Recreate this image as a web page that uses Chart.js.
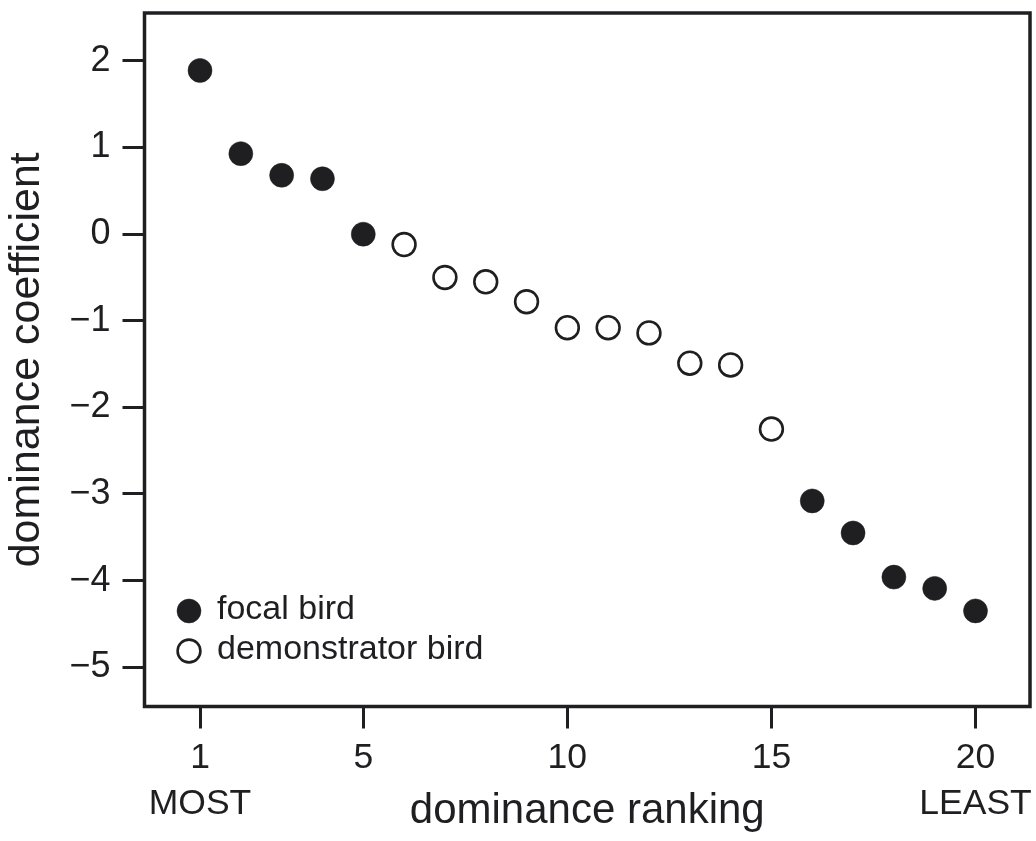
<!DOCTYPE html>
<html>
<head>
<meta charset="utf-8">
<script src="https://cdn.jsdelivr.net/npm/chart.js@4.4.1/dist/chart.umd.min.js"></script>
<style>
  html, body { margin: 0; padding: 0; background: #fff; }
</style>
</head>
<body>
<canvas id="chart" width="1036" height="841"></canvas>
<script>
// values
const focalRanks = [1, 2, 3, 4, 5, 16, 17, 18, 19, 20];
const focalCoef = [1.89, 0.93, 0.68, 0.64, 0.00, -3.08, -3.45, -3.96, -4.09, -4.35];
const demoRanks = [6, 7, 8, 9, 10, 11, 12, 13, 14, 15];
const demoCoef = [-0.12, -0.50, -0.55, -0.78, -1.08, -1.08, -1.14, -1.49, -1.51, -2.25];
const seriesNames = ['focal bird', 'demonstrator bird'];
const xTicks = [1, 5, 10, 15, 20];
const xTickLabels = [['1', 'MOST'], '5', '10', '15', ['20', 'LEAST']];
const yTicks = [2, 1, 0, -1, -2, -3, -4, -5];

const ink = '#1f1e21';
const font = "'Liberation Sans', Arial, sans-serif";

// frame around plot area
const framePlugin = {
    id: 'frame',
    afterDatasetsDraw(chart) {
        const a = chart.chartArea;
        const ctx = chart.ctx;
        ctx.save();
        ctx.strokeStyle = ink;
        ctx.lineWidth = 3.5;
        ctx.strokeRect(a.left, a.top, a.right - a.left, a.bottom - a.top);
        ctx.restore();
    }
};

// legend inside the plot, bottom left
const legendPlugin = {
    id: 'innerLegend',
    afterDraw(chart) {
        const a = chart.chartArea;
        const ctx = chart.ctx;
        ctx.save();
        chart.data.datasets.forEach((ds, i) => {
            const cx = a.left + 44.5;
            const cy = a.bottom - 95.5 + i * 40;
            ctx.beginPath();
            ctx.arc(cx, cy, ds.pointRadius, 0, Math.PI * 2);
            ctx.fillStyle = ds.pointBackgroundColor;
            ctx.fill();
            ctx.lineWidth = ds.pointBorderWidth;
            ctx.strokeStyle = ds.pointBorderColor;
            ctx.stroke();
            ctx.fillStyle = ink;
            ctx.font = '34px ' + font;
            ctx.textAlign = 'left';
            ctx.textBaseline = 'middle';
            ctx.fillText(ds.label, a.left + 72.5, cy - 1.5);
        });
        ctx.restore();
    }
};

new Chart(document.getElementById('chart'), {
    type: 'scatter',
    data: {
        datasets: [{
            label: seriesNames[0],
            data: focalRanks.map((r, i) => ({ x: r, y: focalCoef[i] })),
            pointRadius: 12,
            pointBackgroundColor: ink,
            pointBorderColor: ink,
            pointBorderWidth: 0.5
        }, {
            label: seriesNames[1],
            data: demoRanks.map((r, i) => ({ x: r, y: demoCoef[i] })),
            pointRadius: 11.4,
            pointBackgroundColor: '#ffffff',
            pointBorderColor: ink,
            pointBorderWidth: 2.6
        }]
    },
    options: {
        responsive: false,
        animation: false,
        events: [],
        layout: { autoPadding: false, padding: { top: 13, right: 6, left: 0, bottom: 0 } },
        plugins: {
            legend: { display: false },
            tooltip: { enabled: false }
        },
        scales: {
            x: {
                type: 'linear',
                min: -0.36,
                max: 21.335,
                afterBuildTicks: scale => { scale.ticks = xTicks.map(v => ({ value: v })); },
                afterFit: scale => {
                    scale.height = 134.5;
                    scale.paddingLeft = 0;
                    scale.paddingRight = 0;
                },
                border: { display: false },
                grid: {
                    drawOnChartArea: false,
                    drawTicks: true,
                    tickLength: 22,
                    tickWidth: 3,
                    tickColor: ink
                },
                ticks: {
                    color: ink,
                    padding: 7,
                    maxRotation: 0,
                    autoSkip: false,
                    font: { family: font, size: 35.5, lineHeight: 1.296 },
                    callback: value => xTickLabels[xTicks.indexOf(value)]
                },
                title: {
                    display: true,
                    text: 'dominance ranking',
                    color: ink,
                    padding: { top: 0, bottom: 4 },
                    font: { family: font, size: 42, lineHeight: 1.2 }
                }
            },
            y: {
                min: -5.454,
                max: 2.554,
                afterBuildTicks: scale => { scale.ticks = yTicks.map(v => ({ value: v })); },
                afterFit: scale => {
                    scale.width = 144.5;
                    scale.paddingTop = 0;
                    scale.paddingBottom = 0;
                },
                border: { display: false },
                grid: {
                    drawOnChartArea: false,
                    drawTicks: true,
                    tickLength: 22,
                    tickWidth: 3,
                    tickColor: ink
                },
                ticks: {
                    color: ink,
                    padding: 12,
                    font: { family: font, size: 36 },
                    callback: value => String(value).replace('-', '\u2212')
                },
                title: {
                    display: true,
                    text: 'dominance coefficient',
                    color: ink,
                    padding: { top: 1, bottom: 0 },
                    font: { family: font, size: 43, lineHeight: 1.2 }
                }
            }
        }
    },
    plugins: [framePlugin, legendPlugin]
});
</script>
</body>
</html>
